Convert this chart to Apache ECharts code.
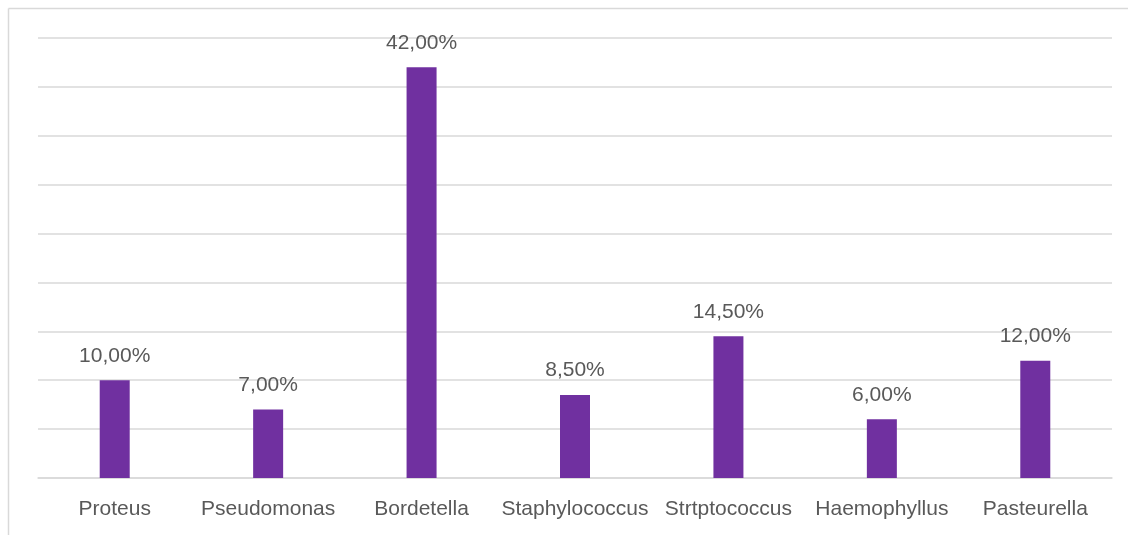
<!DOCTYPE html>
<html>
<head>
<meta charset="utf-8">
<script src="https://cdn.jsdelivr.net/npm/echarts@6/dist/echarts.min.js"></script>
<style>
  html, body { margin: 0; padding: 0; background: #fff; overflow: hidden; }
  #chart { width: 1128px; height: 535px; }
</style>
</head>
<body>
<div id="chart"></div>
<script>
const categories = ['Proteus', 'Pseudomonas', 'Bordetella', 'Staphylococcus', 'Strtptococcus', 'Haemophyllus', 'Pasteurella']
const values = [10, 7, 42, 8.5, 14.5, 6, 12]

const chart = echarts.init(document.getElementById('chart'))

const fmt = v => v.toFixed(2).replace('.', ',') + '%'

const option = {
  animation: false,
  textStyle: { fontFamily: 'Liberation Sans, Arial, sans-serif' },
  graphic: [
    { type: 'line', shape: { x1: 8.5, y1: 8.5, x2: 1128, y2: 8.5 }, style: { stroke: '#d9d9d9', lineWidth: 1.5 } },
    { type: 'line', shape: { x1: 8.5, y1: 8.5, x2: 8.5, y2: 535 }, style: { stroke: '#d9d9d9', lineWidth: 1.5 } }
  ],
  grid: { left: 38, right: 16, top: 38, bottom: 57, containLabel: false },
  xAxis: {
    type: 'category',
    data: categories,
    axisLine: { lineStyle: { color: '#d9d9d9', width: 1.5 } },
    axisTick: { show: false },
    axisLabel: { color: '#595959', fontSize: 21, margin: 21, interval: 0 }
  },
  yAxis: {
    type: 'value',
    min: 0,
    max: 45,
    interval: 5,
    axisLabel: { show: false },
    axisLine: { show: false },
    axisTick: { show: false },
    splitLine: { lineStyle: { color: '#d9d9d9', width: 1.5 } }
  },
  series: [{
    type: 'bar',
    data: values,
    barWidth: 30,
    itemStyle: { color: '#7030A0' },
    label: {
      show: true,
      position: 'top',
      distance: 14,
      color: '#595959',
      fontSize: 21,
      formatter: p => fmt(p.value)
    }
  }]
}

chart.setOption(option)
</script>
</body>
</html>
